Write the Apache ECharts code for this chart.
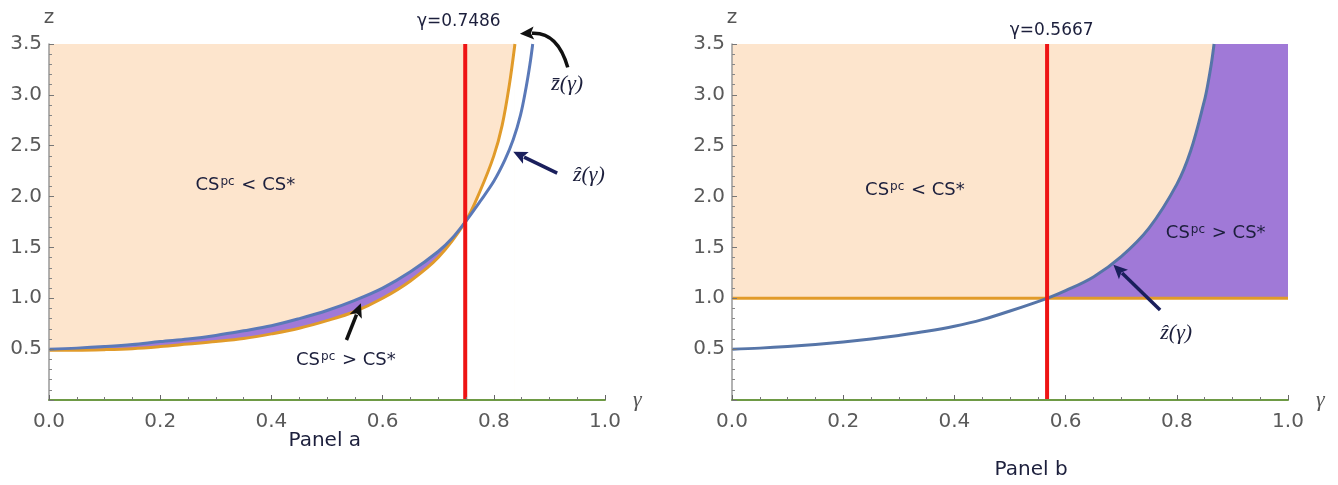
<!DOCTYPE html>
<html><head><meta charset="utf-8">
<script src="https://cdn.jsdelivr.net/npm/echarts@6/dist/echarts.min.js"></script>
<style>html,body{margin:0;padding:0;background:#fff}#c{width:1338px;height:485px}</style>
</head><body><div id="c"></div>
<script>
// ---- data ----
const xTickLabels = ['0.0', '0.2', '0.4', '0.6', '0.8', '1.0'];
const yTickLabels = ['0.5', '1.0', '1.5', '2.0', '2.5', '3.0', '3.5'];

// Panel a: z-hat (blue)
const gammaHatA = [0, 0.05, 0.1, 0.15, 0.2, 0.25, 0.3, 0.35, 0.4, 0.45, 0.5, 0.55, 0.6, 0.65, 0.7, 0.725, 0.7486, 0.775, 0.8, 0.82, 0.835, 0.848, 0.858, 0.865, 0.87];
const zHatA     = [0.50, 0.51, 0.525, 0.545, 0.575, 0.60, 0.635, 0.68, 0.73, 0.80, 0.88, 0.98, 1.10, 1.26, 1.46, 1.59, 1.75, 1.95, 2.15, 2.36, 2.56, 2.80, 3.07, 3.30, 3.50];
// Panel a: z-bar (orange)
const gammaBarA = [0, 0.05, 0.1, 0.15, 0.2, 0.25, 0.3, 0.35, 0.4, 0.45, 0.5, 0.55, 0.6, 0.65, 0.7, 0.7486, 0.775, 0.8, 0.815, 0.828, 0.838];
const zBarA     = [0.49, 0.49, 0.495, 0.505, 0.525, 0.55, 0.575, 0.605, 0.65, 0.705, 0.78, 0.87, 1.00, 1.17, 1.40, 1.75, 2.05, 2.40, 2.70, 3.10, 3.50];
// Panel b: z-hat (blue) and flat orange line
const gammaHatB = [0, 0.05, 0.1, 0.15, 0.2, 0.25, 0.3, 0.35, 0.4, 0.45, 0.5, 0.5667, 0.6, 0.65, 0.7, 0.75, 0.8, 0.825, 0.85, 0.855, 0.862, 0.867];
const zHatB     = [0.50, 0.51, 0.525, 0.545, 0.57, 0.60, 0.635, 0.675, 0.725, 0.79, 0.875, 1.00, 1.075, 1.21, 1.41, 1.69, 2.12, 2.45, 2.95, 3.08, 3.30, 3.50];
const gammaFlatB = [0, 1];
const zFlatB     = [1.0, 1.0];

const gammaStarA = 0.7486;
const gammaStarB = 0.5667;
const zTop = 3.5;

// ---- helpers ----
const zip = (xs, ys) => xs.map((x, i) => [x, ys[i]]);
const hatA = zip(gammaHatA, zHatA);
const barA = zip(gammaBarA, zBarA);
const hatB = zip(gammaHatB, zHatB);
const flatB = zip(gammaFlatB, zFlatB);

const PEACH = '#FDE5CD', PURPLE = '#A079D7', BLUE = '#5A79B8', ORANGE = '#E19B2A', RED = '#EE1414';
const TXT = '#1c1f3c';
const LABEL_FONT = 'DejaVu Sans';

function axisPair(i) {
  const x = {
    type: 'value', gridIndex: i, min: 0, max: 1, interval: 0.2, z: 10,
    name: 'γ', nameLocation: 'end', nameGap: 28,
    nameTextStyle: { color: '#555', fontSize: 22, fontStyle: 'italic', fontFamily: 'Liberation Serif', verticalAlign: 'middle' },
    axisLine: { lineStyle: { color: '#6E9A45', width: 2 } },
    axisTick: { inside: true, length: 5, lineStyle: { color: '#666' } },
    minorTick: { show: true, splitNumber: 4, length: 3, lineStyle: { color: '#777' } },
    splitLine: { show: false },
    axisLabel: { color: '#5a5a5a', fontSize: 20, fontFamily: LABEL_FONT, margin: 12,
      formatter: v => xTickLabels[Math.round(v / 0.2)] }
  };
  const y = {
    type: 'value', gridIndex: i, min: 0, max: 3.5, interval: 0.5, z: 10,
    name: 'z', nameLocation: 'end', nameGap: 16,
    nameTextStyle: { color: '#555', fontSize: 20, fontFamily: LABEL_FONT, align: 'center' },
    axisLine: { show: true, lineStyle: { color: '#999', width: 1.5 } },
    axisTick: { inside: true, length: 5, lineStyle: { color: '#777' } },
    minorTick: { show: true, splitNumber: 5, length: 3, lineStyle: { color: '#888' } },
    splitLine: { show: false },
    axisLabel: { color: '#5a5a5a', fontSize: 20, fontFamily: LABEL_FONT, margin: 7,
      formatter: v => v === 0 ? '' : yTickLabels[Math.round(v / 0.5) - 1] }
  };
  return [x, y];
}
const [xa, ya] = axisPair(0);
const [xb, yb] = axisPair(1);

const base = { type: 'line', symbol: 'none', silent: true, animation: false, smooth: 0.35 };
function area(i, data, color, z) {
  return Object.assign({}, base, { xAxisIndex: i, yAxisIndex: i, data, z,
    lineStyle: { width: 0 }, areaStyle: { color, opacity: 1, origin: 'start' } });
}
function line(i, data, color, width, z) {
  return Object.assign({}, base, { xAxisIndex: i, yAxisIndex: i, data, z,
    lineStyle: { color, width } });
}

const series = [
  // Panel a
  area(0, [[0, zTop], [gammaBarA[gammaBarA.length - 1], zTop]], PEACH, 1),
  area(0, hatA.filter(p => p[0] <= gammaStarA), PURPLE, 2),
  area(0, barA, '#ffffff', 3),
  line(0, barA, ORANGE, 3, 5),
  line(0, hatA, BLUE, 3, 6),
  Object.assign(line(0, [[gammaStarA, 0], [gammaStarA, zTop]], RED, 4, 7), { smooth: false }),
  // Panel b
  area(1, [[0, zTop], [gammaHatB[gammaHatB.length - 1], zTop]], PEACH, 1),
  Object.assign(area(1, hatB.filter(p => p[0] >= gammaStarB).concat([[1, zTop]]), PURPLE, 2), { smooth: false }),
  area(1, flatB, '#ffffff', 3),
  line(1, flatB, ORANGE, 3, 5),
  line(1, hatB, '#5675A8', 3, 6),
  Object.assign(line(1, [[gammaStarB, 0], [gammaStarB, zTop]], RED, 4, 7), { smooth: false })
];

const chart = echarts.init(document.getElementById('c'), null, { renderer: 'canvas' });
chart.setOption({
  animation: false,
  backgroundColor: '#ffffff',
  grid: [
    { left: 49, top: 44, width: 556, height: 356 },
    { left: 732, top: 44, width: 556, height: 356 }
  ],
  xAxis: [xa, xb],
  yAxis: [ya, yb],
  series
});

// ---- annotations placed in data coordinates ----
const csRich = {
  a: { fontSize: 18, fontFamily: LABEL_FONT, fill: TXT },
  s: { fontSize: 12, fontFamily: LABEL_FONT, fill: TXT, padding: [0, 1, 7, 1] }
};
const labels = [
  { g: 0, at: [0.353, 2.11], text: '{a|CS}{s|pc}{a| < CS*}', rich: csRich },
  { g: 0, at: [0.534, 0.39], text: '{a|CS}{s|pc}{a| > CS*}', rich: csRich },
  { g: 1, at: [0.329, 2.065], text: '{a|CS}{s|pc}{a| < CS*}', rich: csRich },
  { g: 1, at: [0.870, 1.64], text: '{a|CS}{s|pc}{a| > CS*}', rich: csRich },
  { g: 0, at: [0.737, 3.72], text: 'γ=0.7486', font: '17px "DejaVu Sans"' },
  { g: 1, at: [0.575, 3.63], text: 'γ=0.5667', font: '17px "DejaVu Sans"' },
  { g: 0, at: [0.932, 3.10], text: 'z\u0304(γ)', font: 'italic 22px "Liberation Serif"' },
  { g: 0, at: [0.971, 2.21], text: 'ẑ(γ)', font: 'italic 22px "Liberation Serif"' },
  { g: 1, at: [0.799, 0.66], text: 'ẑ(γ)', font: 'italic 22px "Liberation Serif"' },
  { g: 0, at: [0.496, -0.40], text: 'Panel a', font: '20px "DejaVu Sans"' },
  { g: 1, at: [0.538, -0.69], text: 'Panel b', font: '20px "DejaVu Sans"' }
];
// arrows: tail, (optional control), tip — all in data coordinates
const arrows = [
  { g: 0, tail: [0.933, 3.27], ctrl: [0.915, 3.62], tip: [0.847, 3.60], color: '#111' },
  { g: 0, tail: [0.914, 2.23], tip: [0.835, 2.44], color: '#1a1f5c' },
  { g: 0, tail: [0.535, 0.59], tip: [0.561, 0.95], color: '#111' },
  { g: 1, tail: [0.770, 0.885], tip: [0.686, 1.33], color: '#1a1f5c' }
];

const graphic = labels.map(l => {
  const p = chart.convertToPixel({ gridIndex: l.g }, l.at);
  const style = { text: l.text, x: p[0], y: p[1], align: 'center', verticalAlign: 'middle', fill: TXT };
  if (l.rich) style.rich = l.rich; else style.font = l.font;
  return { type: 'text', silent: true, z: 20, style };
});
arrows.forEach(a => {
  const T = chart.convertToPixel({ gridIndex: a.g }, a.tail);
  const P = chart.convertToPixel({ gridIndex: a.g }, a.tip);
  const C = a.ctrl ? chart.convertToPixel({ gridIndex: a.g }, a.ctrl) : T;
  const dx = P[0] - C[0], dy = P[1] - C[1];
  const len = Math.hypot(dx, dy);
  const ux = dx / len, uy = dy / len;
  const headL = 14, headW = 6.5;
  const B = [P[0] - ux * headL, P[1] - uy * headL];
  if (a.ctrl) {
    graphic.push({ type: 'bezierCurve', silent: true, z: 20,
      shape: { x1: T[0], y1: T[1], cpx1: C[0], cpy1: C[1], x2: B[0] + ux * 2, y2: B[1] + uy * 2 },
      style: { stroke: a.color, lineWidth: 3.5, fill: null } });
  } else {
    graphic.push({ type: 'line', silent: true, z: 20,
      shape: { x1: T[0], y1: T[1], x2: B[0] + ux * 2, y2: B[1] + uy * 2 },
      style: { stroke: a.color, lineWidth: 3.5 } });
  }
  graphic.push({ type: 'polygon', silent: true, z: 21,
    shape: { points: [P, [B[0] - uy * headW, B[1] + ux * headW], [B[0] + ux * 3, B[1] + uy * 3], [B[0] + uy * headW, B[1] - ux * headW]] },
    style: { fill: a.color } });
});
chart.setOption({ graphic });
</script>
</body></html>
